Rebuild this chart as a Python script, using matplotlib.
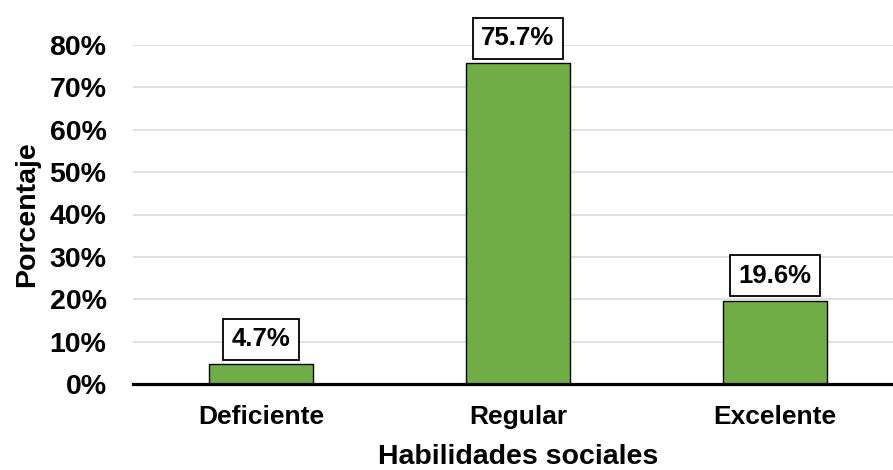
import matplotlib.pyplot as plt
from matplotlib.ticker import PercentFormatter

plt.rcParams['font.family'] = ['Liberation Sans', 'DejaVu Sans']
plt.rcParams['font.weight'] = 'bold'

categorias = ['Deficiente', 'Regular', 'Excelente']
porcentajes = [4.7, 75.7, 19.6]
etiquetas = ['4.7%', '75.7%', '19.6%']

fig = plt.figure(figsize=(8.93, 4.70), dpi=100)
ax = fig.add_axes([133 / 893, 86 / 470, 770 / 893, 339 / 470])

x = range(len(categorias))
ax.bar(x, porcentajes, width=0.405, color='#70AD47', edgecolor='black',
       linewidth=1.0, zorder=3)

for xi, v, txt in zip(x, porcentajes, etiquetas):
    ax.annotate(txt, (xi, v), xytext=(0, 18), textcoords='offset points',
                ha='center', va='center', fontsize=18.5, fontweight='bold',
                bbox=dict(boxstyle='square,pad=0.33', fc='white', ec='black', lw=1.3),
                annotation_clip=False, zorder=5)

ax.set_xlim(-0.5, 2.5)
ax.set_ylim(0, 80)
ax.set_yticks(range(0, 81, 10))
ax.yaxis.set_major_formatter(PercentFormatter(decimals=0))
ax.set_xticks(list(x))
ax.set_xticklabels(categorias, fontsize=19, fontweight='bold')
ax.tick_params(axis='y', length=0, pad=19, labelsize=20.5)
ax.tick_params(axis='x', length=0, pad=15)

ax.grid(axis='y', color='#D9D9D9', linewidth=1.1, zorder=0)
for s in ['top', 'right', 'left']:
    ax.spines[s].set_visible(False)
ax.spines['bottom'].set_linewidth(2.3)
ax.spines['bottom'].set_zorder(4)

ax.set_xlabel('Habilidades sociales', fontsize=20.5, fontweight='bold')
ax.xaxis.set_label_coords(0.5, -0.177)
ax.set_ylabel('Porcentaje', fontsize=20.5, fontweight='bold')
ax.yaxis.set_label_coords(-93 / 770, 0.5)

fig.savefig('out.png', dpi=100)
